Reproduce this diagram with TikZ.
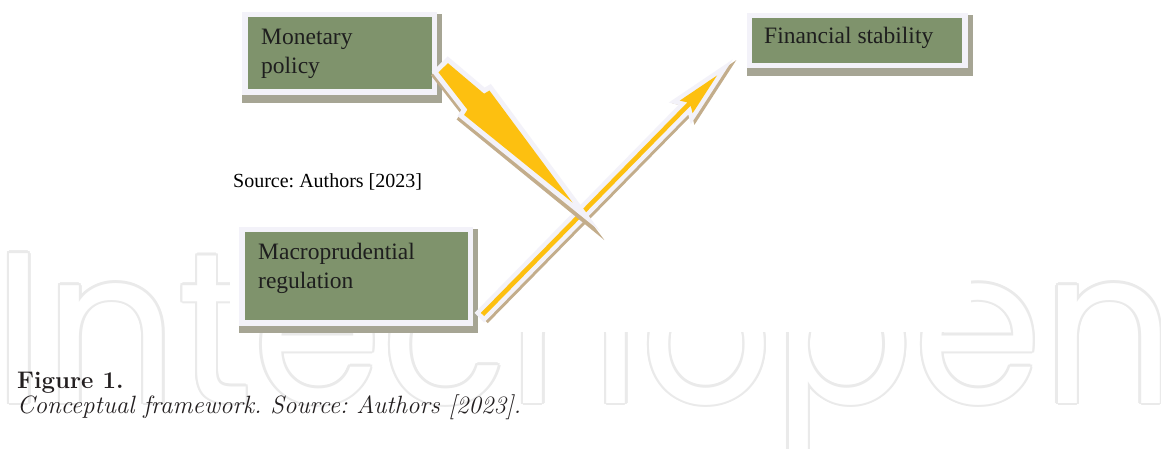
\documentclass[tikz,border=0pt]{standalone}
\usepackage{fontspec}
\newfontfamily\tnr{Liberation Serif}
\newfontfamily\wmfont{Poppins}
\usetikzlibrary{calc,backgrounds}
\definecolor{boxgreen}{HTML}{7F936C}
\definecolor{boxedge}{HTML}{F3F2F9}
\definecolor{boxshadow}{HTML}{A6A594}
\definecolor{arryellow}{HTML}{FDC010}
\definecolor{arrshadow}{HTML}{C3AD8B}
\definecolor{wmgray}{HTML}{EAEAEA}
\definecolor{textdark}{HTML}{1E1E1E}
\definecolor{capcol}{HTML}{231F20}
\begin{document}
\frenchspacing
\begin{tikzpicture}[x=1pt,y=-1pt,
  box/.style={draw=boxedge, line width=5.5pt, fill=boxgreen, inner sep=0pt, anchor=north west},
  boxtext/.style={font=\tnr\fontsize{23.5}{29}\selectfont, text=textdark, anchor=base west, inner sep=0pt, align=left},
  srctext/.style={font=\tnr\fontsize{20}{24}\selectfont, text=black, anchor=base west, inner sep=0pt},
  capbold/.style={font=\bfseries\fontsize{24}{28}\selectfont, text=capcol, anchor=base west, inner sep=0pt},
  capit/.style={font=\itshape\fontsize{25}{28}\selectfont, text=capcol, anchor=base west, inner sep=0pt},
  wmtext/.style={font=\wmfont\fontsize{215}{215}\selectfont, anchor=base west, inner sep=0pt, xscale=0.965},
  boxshade/.style={fill=boxshadow},
  arrowfill/.style={fill=arryellow},
  arrowedge/.style={draw=boxedge, line join=miter, miter limit=12},
  arrowshade/.style={fill=arrshadow, draw=arrshadow, line join=miter, miter limit=12}
]
\useasboundingbox (0,0) rectangle (1161,449);

% background and watermark
\begin{scope}[on background layer]
  \fill[white] (0,0) rectangle (1161,449);
  \foreach \a in {0,30,...,330}
    \node[wmtext, text=wmgray] at ($(-6.4,403)+(\a:2.3)$) {Intechopen};
  \node[wmtext, text=white] (wm) at (-6.4,403) {Intechopen};
  \fill[white] (230,0) rectangle (971,332);
\end{scope}

% boxes
\node[box, minimum width=189.5pt, minimum height=77.5pt] (mp) at (242,12) {};
\node[box, minimum width=215.5pt, minimum height=50pt] (fs) at (746.5,13) {};
\node[box, minimum width=228.5pt, minimum height=93.5pt] (mr) at (239,226.5) {};

\begin{scope}[on background layer]
  \foreach \b in {mp,fs,mr}
    \fill[boxshade] ($(\b.north west)+(0.25,2.25)$) rectangle ($(\b.south east)+(5.25,7.75)$);
\end{scope}

% texts
\node[boxtext] (mpt) at (261,74) {Monetary\\policy};
\node[boxtext] (fst) at (764,44) {Financial stability};
\node[boxtext] (mrt) at (258,288) {Macroprudential\\regulation};
\node[srctext] (src) at (233,188) {Source: Authors [2023]};
\node[capbold] (cap1) at (17,388) {Figure \oldstylenums{1}.};
\node[capit] (cap2) at (17,413) {Conceptual framework. Source: Authors [\oldstylenums{2023}].};

% arrow end points
\coordinate (a1s) at ($(mp.east)+(6.2,14.25)$);
\coordinate (a1e) at ($(mp.south east)+(135.5,107.5)$);
\coordinate (a2s) at ($(mr.south east)+(9.5,-11)$);
\coordinate (a2e) at ($(fs.south west)+(-29.5,7)$);

\path let \p1=($(a1e)-(a1s)$) in \pgfextra{\pgfmathsetmacro\angA{atan2(\y1,\x1)}\pgfmathsetmacro\lenA{veclen(\x1,\y1)}\global\let\angA\angA\global\let\lenA\lenA};
\path let \p1=($(a2e)-(a2s)$) in \pgfextra{\pgfmathsetmacro\angB{atan2(\y1,\x1)}\pgfmathsetmacro\lenB{veclen(\x1,\y1)}\global\let\angB\angB\global\let\lenB\lenB};

% arrow 2: macroprudential regulation -> financial stability
\begin{scope}[shift={(a2s)}, rotate=\angB]
  \filldraw[arrowshade, line width=9pt] (2,0.7) -- (\lenB-38,0.7) -- (\lenB-42,-6) -- (\lenB+2,3) -- (\lenB-42,12) -- (\lenB-38,5.3) -- (2,5.3) -- cycle;
  \draw[arrowedge, line width=9pt] (0,-2.3) -- (\lenB-40,-2.3) -- (\lenB-44,-9) -- (\lenB,0) -- (\lenB-44,9) -- (\lenB-40,2.3) -- (0,2.3) -- cycle;
  \fill[arrowfill] (0,-2.3) -- (\lenB-40,-2.3) -- (\lenB-44,-9) -- (\lenB,0) -- (\lenB-44,9) -- (\lenB-40,2.3) -- (0,2.3) -- cycle;
\end{scope}

% arrow 1: monetary policy -> crossing
\begin{scope}[shift={(a1s)}, rotate=\angA]
  \filldraw[arrowshade, line width=10pt] (2,-3.6) -- (49,-8.5) -- (50.5,-14.6) -- (\lenA+8,3) -- (50.5,20.6) -- (49,14.5) -- (2,9.6) -- cycle;
  \draw[arrowedge, line width=10pt] (0,-6.6) -- (47,-11.5) -- (48.5,-17.6) -- (\lenA,0) -- (48.5,17.6) -- (47,11.5) -- (0,6.6) -- cycle;
  \fill[arrowfill] (0,-6.6) -- (47,-11.5) -- (48.5,-17.6) -- (\lenA,0) -- (48.5,17.6) -- (47,11.5) -- (0,6.6) -- cycle;
\end{scope}
\end{tikzpicture}
\end{document}
